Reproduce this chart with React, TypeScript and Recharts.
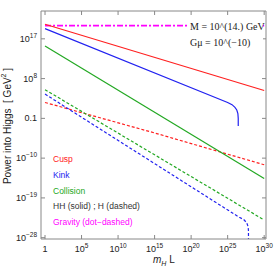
import { Line, LineChart, XAxis, YAxis } from "recharts";

// log10(m_H L) and log10(power)
const cuspX = [0, 30];
const cuspHH = [20.3, 5.3];
const kinkX = [0, 25.0, 25.6, 26.0, 26.25, 26.4, 26.45, 26.45];
const kinkHH = [19.3, 2.6, 2.1, 1.5, 0.9, 0.1, -1.0, -2.7];
const collisionX = [0, 30];
const collisionHH = [15.4, -14.6];
const cuspHX = [0, 15, 30];
const cuspH = [2.6, -4.3, -11.5];
const kinkHX = [0, 26.6, 27.2, 27.6, 27.8, 27.85, 27.85];
const kinkH = [4.5, -23.4, -23.9, -24.6, -25.5, -26.5, -28.3];
const collisionHX = [0, 30];
const collisionH = [5.5, -24.0];
const gravityX = [0, 30];
const gravity = [20.0, 20.0];

const xTicks = [0, 5, 10, 15, 20, 25, 30];
const xTickBase = ["1", "10", "10", "10", "10", "10", "10"];
const xTickExp = ["", "5", "10", "15", "20", "25", "30"];
const yTicks = [17, 8, -1, -10, -19, -28];
const yTickBase = ["10", "10", "0.1", "10", "10", "10"];
const yTickExp = ["17", "8", "", "\u221210", "\u221219", "\u221228"];

const RED = "#ff2020";
const BLUE = "#2222f0";
const GREEN = "#22a822";
const MAGENTA = "#ff00ff";
const FRAME = "#888888";
const SANS = "'Liberation Sans', Arial, sans-serif";
const SERIF = "'Liberation Serif', 'Times New Roman', serif";

const toPoints = (xs: number[], ys: number[]) =>
  xs.map((x, i) => ({ x, y: ys[i] }));

const BottomTick = ({ x, y, index }: any) => (
  <g>
    <line x1={x} y1={y} x2={x} y2={y - 4} stroke={FRAME} />
    <text x={x} y={y + 13} textAnchor="middle" fontSize={9} fill="#222" fontFamily={SANS}>
      <tspan>{xTickBase[index]}</tspan>
      {xTickExp[index] && (
        <tspan dy={-4} fontSize={6.5}>
          {xTickExp[index]}
        </tspan>
      )}
    </text>
  </g>
);

const TopTick = ({ x, y }: any) => (
  <line x1={x} y1={y} x2={x} y2={y + 4} stroke={FRAME} />
);

const LeftTick = ({ x, y, index }: any) => (
  <g>
    <line x1={x} y1={y} x2={x + 4} y2={y} stroke={FRAME} />
    <text x={x - 4} y={y + 3} textAnchor="end" fontSize={9} fill="#222" fontFamily={SANS}>
      <tspan>{yTickBase[index]}</tspan>
      {yTickExp[index] && (
        <tspan dy={-4} fontSize={6.5}>
          {yTickExp[index]}
        </tspan>
      )}
    </text>
  </g>
);

const RightTick = ({ x, y }: any) => (
  <line x1={x} y1={y} x2={x - 4} y2={y} stroke={FRAME} />
);

const YLabel = ({ viewBox }: any) => {
  if (!viewBox) return null;
  const cx = 7;
  const cy = viewBox.y + viewBox.height / 2 + 1;
  return (
    <text
      x={cx}
      y={cy}
      textAnchor="middle"
      dominantBaseline="central"
      fontSize={10}
      fill="#222"
      fontFamily={SANS}
      transform={`rotate(-90 ${cx} ${cy})`}
    >
      Power into Higgs{"\u00a0\u00a0"}[ GeV<tspan dy={-4} fontSize={7}>2</tspan>
      <tspan dy={4}>{"\u00a0"}]</tspan>
    </text>
  );
};

const legend = [
  { text: "Cusp", color: RED },
  { text: "Kink", color: BLUE },
  { text: "Collision", color: GREEN },
  { text: "HH (solid) ; H (dashed)", color: "#333" },
  { text: "Gravity (dot\u2212dashed)", color: MAGENTA },
];

export default function App() {
  const solid = [
    { key: "cusp", data: toPoints(cuspX, cuspHH), color: RED },
    { key: "kink", data: toPoints(kinkX, kinkHH), color: BLUE },
    { key: "collision", data: toPoints(collisionX, collisionHH), color: GREEN },
  ];
  const dashed = [
    { key: "cuspH", data: toPoints(cuspHX, cuspH), color: RED },
    { key: "kinkH", data: toPoints(kinkHX, kinkH), color: BLUE },
    { key: "collisionH", data: toPoints(collisionHX, collisionH), color: GREEN },
  ];

  return (
    <div style={{ position: "absolute", left: 0, top: 0, width: 274, height: 267, background: "#fff" }}>
      <LineChart width={274} height={267} margin={{ top: 0, right: 0, bottom: 0, left: 0 }}>
        <XAxis
          xAxisId="b"
          type="number"
          dataKey="x"
          domain={[-0.55, 30.25]}
          ticks={xTicks}
          interval={0}
          orientation="bottom"
          height={28}
          tickSize={0}
          tickMargin={0}
          axisLine={{ stroke: FRAME }}
          tick={(p: any) => <BottomTick {...p} />}
          allowDataOverflow
        />
        <XAxis
          xAxisId="t"
          type="number"
          dataKey="x"
          domain={[-0.55, 30.25]}
          ticks={xTicks}
          interval={0}
          orientation="top"
          height={11}
          tickSize={0}
          tickMargin={0}
          axisLine={{ stroke: FRAME }}
          tick={(p: any) => <TopTick {...p} />}
          allowDataOverflow
        />
        <YAxis
          yAxisId="l"
          type="number"
          dataKey="y"
          domain={[-28.3, 23.3]}
          ticks={yTicks}
          interval={0}
          orientation="left"
          width={41}
          tickSize={0}
          tickMargin={0}
          axisLine={{ stroke: FRAME }}
          tick={(p: any) => <LeftTick {...p} />}
          label={<YLabel />}
          allowDataOverflow
        />
        <YAxis
          yAxisId="r"
          type="number"
          dataKey="y"
          domain={[-28.3, 23.3]}
          ticks={yTicks}
          interval={0}
          orientation="right"
          width={8}
          tickSize={0}
          tickMargin={0}
          axisLine={{ stroke: FRAME }}
          tick={(p: any) => <RightTick {...p} />}
          allowDataOverflow
        />
        <Line
          xAxisId="b"
          yAxisId="l"
          data={toPoints(gravityX, gravity)}
          dataKey="y"
          type="linear"
          stroke={MAGENTA}
          strokeWidth={1.6}
          strokeDasharray="6 2 2 2"
          dot={false}
          activeDot={false}
          isAnimationActive={false}
        />
        {dashed.map((s) => (
          <Line
            key={s.key}
            xAxisId="b"
            yAxisId="l"
            data={s.data}
            dataKey="y"
            type="linear"
            stroke={s.color}
            strokeWidth={1.2}
            strokeDasharray="3 2"
            dot={false}
            isAnimationActive={false}
          />
        ))}
        {solid.map((s) => (
          <Line
            key={s.key}
            xAxisId="b"
            yAxisId="l"
            data={s.data}
            dataKey="y"
            type="linear"
            stroke={s.color}
            strokeWidth={1.2}
            dot={false}
            isAnimationActive={false}
          />
        ))}
      </LineChart>

      {/* plot annotation, white box hides the gravity line behind it */}
      <div
        style={{
          position: "absolute",
          left: 188,
          top: 19,
          width: 75,
          height: 33,
          background: "#fff",
          fontFamily: SERIF,
          fontSize: 10,
          color: "#222",
          lineHeight: "16px",
          paddingLeft: 2,
          boxSizing: "border-box",
          whiteSpace: "nowrap",
        }}
      >
        <div>M = 10^(14.) GeV</div>
        <div>G&mu; = 10^(&minus;10)</div>
      </div>

      {legend.map((l, i) => (
        <div
          key={l.text}
          style={{
            position: "absolute",
            left: 53,
            top: 153 + i * 15.8,
            fontFamily: SANS,
            fontSize: 8.5,
            lineHeight: "12px",
            color: l.color,
            whiteSpace: "nowrap",
          }}
        >
          {l.text}
        </div>
      ))}

      <div
        style={{
          position: "absolute",
          left: 153,
          top: 253,
          fontFamily: SANS,
          fontSize: 10,
          lineHeight: "13px",
          color: "#222",
          whiteSpace: "nowrap",
        }}
      >
        <i>m</i>
        <sub style={{ fontSize: 7, fontStyle: "italic" }}>H</sub> L
      </div>
    </div>
  );
}
